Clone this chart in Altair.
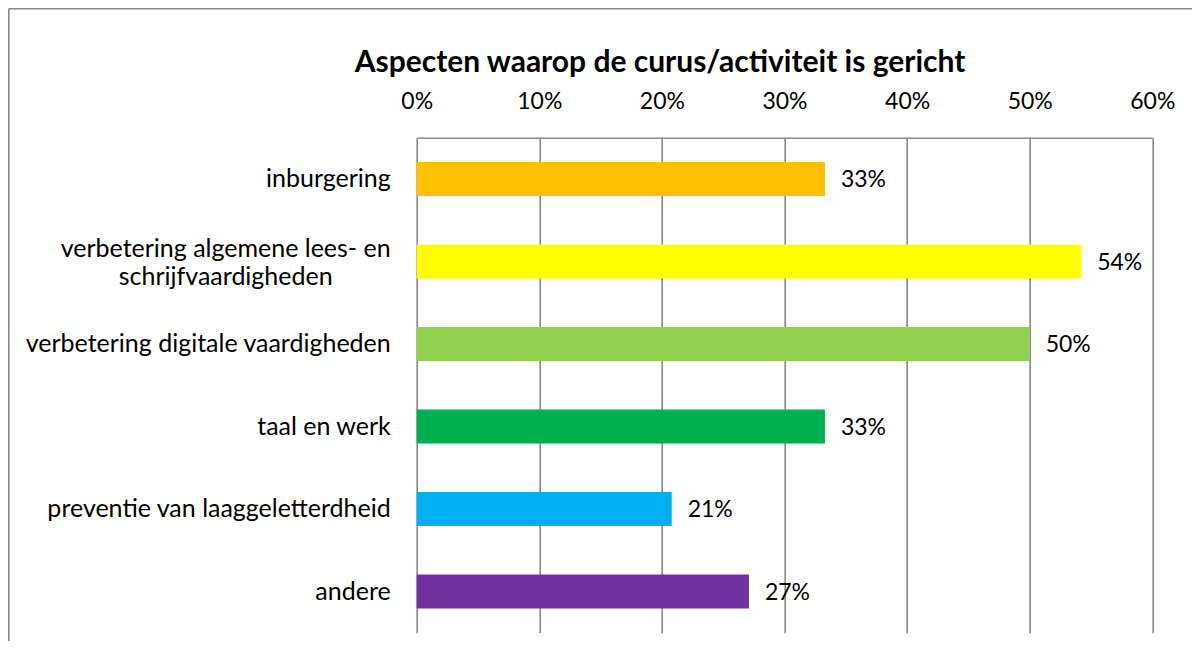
import altair as alt
import pandas as pd

# ---- data ----
categories = [
    "inburgering",
    "verbetering algemene lees- en schrijfvaardigheden",
    "verbetering digitale vaardigheden",
    "taal en werk",
    "preventie van laaggeletterdheid",
    "andere",
]
label_lines = [
    ["inburgering"],
    ["verbetering algemene lees- en", "schrijfvaardigheden"],
    ["verbetering digitale vaardigheden"],
    ["taal en werk"],
    ["preventie van laaggeletterdheid"],
    ["andere"],
]
values = [0.333, 0.542, 0.500, 0.333, 0.208, 0.271]
colors = ["#FFC000", "#FFFF00", "#92D050", "#00B050", "#00B0F0", "#7030A0"]
tick_values = [0, 0.1, 0.2, 0.3, 0.4, 0.5, 0.6]
title_text = "Aspecten waarop de curus/activiteit is gericht"

df = pd.DataFrame({
    "category": categories,
    "label": label_lines,
    "value": values,
    "multi": [len(l) > 1 for l in label_lines],
})

FONT = "Lato"
FS_NUM = 23
FS_CAT = 25
W, H = 735.6, 495
PAD_L, PAD_T = 408.7, 129.7
GRID = "#888888"

y_enc = alt.Y(
    "category:N", sort=categories, axis=None,
    scale=alt.Scale(paddingInner=0.59, paddingOuter=0.295),
)
x_enc = alt.X(
    "value:Q",
    scale=alt.Scale(domain=[0, 0.6], nice=False),
    axis=alt.Axis(
        orient="top", format=".0%", values=tick_values, title=None,
        grid=True, gridColor=GRID, gridWidth=1.6, gridOpacity=1,
        ticks=False, domain=True, domainColor=GRID, domainWidth=1.6,
        labelFont=FONT, labelFontSize=FS_NUM, labelColor="#000000",
        labelPadding=24, labelFlush=False,
    ),
)

base = alt.Chart(df)

bars = base.mark_bar(size=34).encode(
    x=x_enc,
    y=y_enc,
    color=alt.Color("category:N", sort=categories,
                    scale=alt.Scale(domain=categories, range=colors), legend=None),
)

value_labels = base.mark_text(
    align="left", baseline="alphabetic", dx=16, dy=8.5,
    font=FONT, fontSize=FS_NUM, color="#000000",
).encode(
    x="value:Q", y=y_enc, text=alt.Text("value:Q", format=".0%"),
)

cat_labels_single = base.transform_filter("!datum.multi").mark_text(
    align="right", baseline="alphabetic", dy=8.5,
    font=FONT, fontSize=FS_CAT, color="#000000",
).encode(
    x=alt.value(-26), y=y_enc, text="label",
)

cat_labels_multi = base.transform_filter("datum.multi").mark_text(
    align="center", baseline="alphabetic", font=FONT, fontSize=FS_CAT,
    color="#000000", lineHeight=28, dy=-4,
).encode(
    x=alt.value(-191), y=y_enc, text="label",
)

one = pd.DataFrame({"t": [title_text]})

title = alt.Chart(one).mark_text(
    align="center", baseline="alphabetic", font=FONT, fontSize=30,
    fontWeight="bold", color="#000000",
).encode(x=alt.value(243.3), y=alt.value(-65.2), text="t:N")

border_left = alt.Chart(one).mark_rule(color=GRID, strokeWidth=1.6).encode(
    x=alt.value(-PAD_L + 0.8), y=alt.value(-PAD_T + 0.8), y2=alt.value(H + 60)
)
border_top = alt.Chart(one).mark_rule(color=GRID, strokeWidth=1.6).encode(
    x=alt.value(-PAD_L + 0.8), x2=alt.value(W + 200), y=alt.value(-PAD_T + 0.8)
)

chart = alt.layer(
    bars, value_labels, cat_labels_single, cat_labels_multi, title,
    border_left, border_top,
).properties(
    width=W, height=H,
    autosize=alt.AutoSizeParams(type="none"),
    padding={"left": PAD_L, "top": PAD_T, "right": 40, "bottom": 8},
    background="#ffffff",
).configure_view(stroke=None)

chart.save("out.html", embed_options={"renderer": "svg", "actions": False})
